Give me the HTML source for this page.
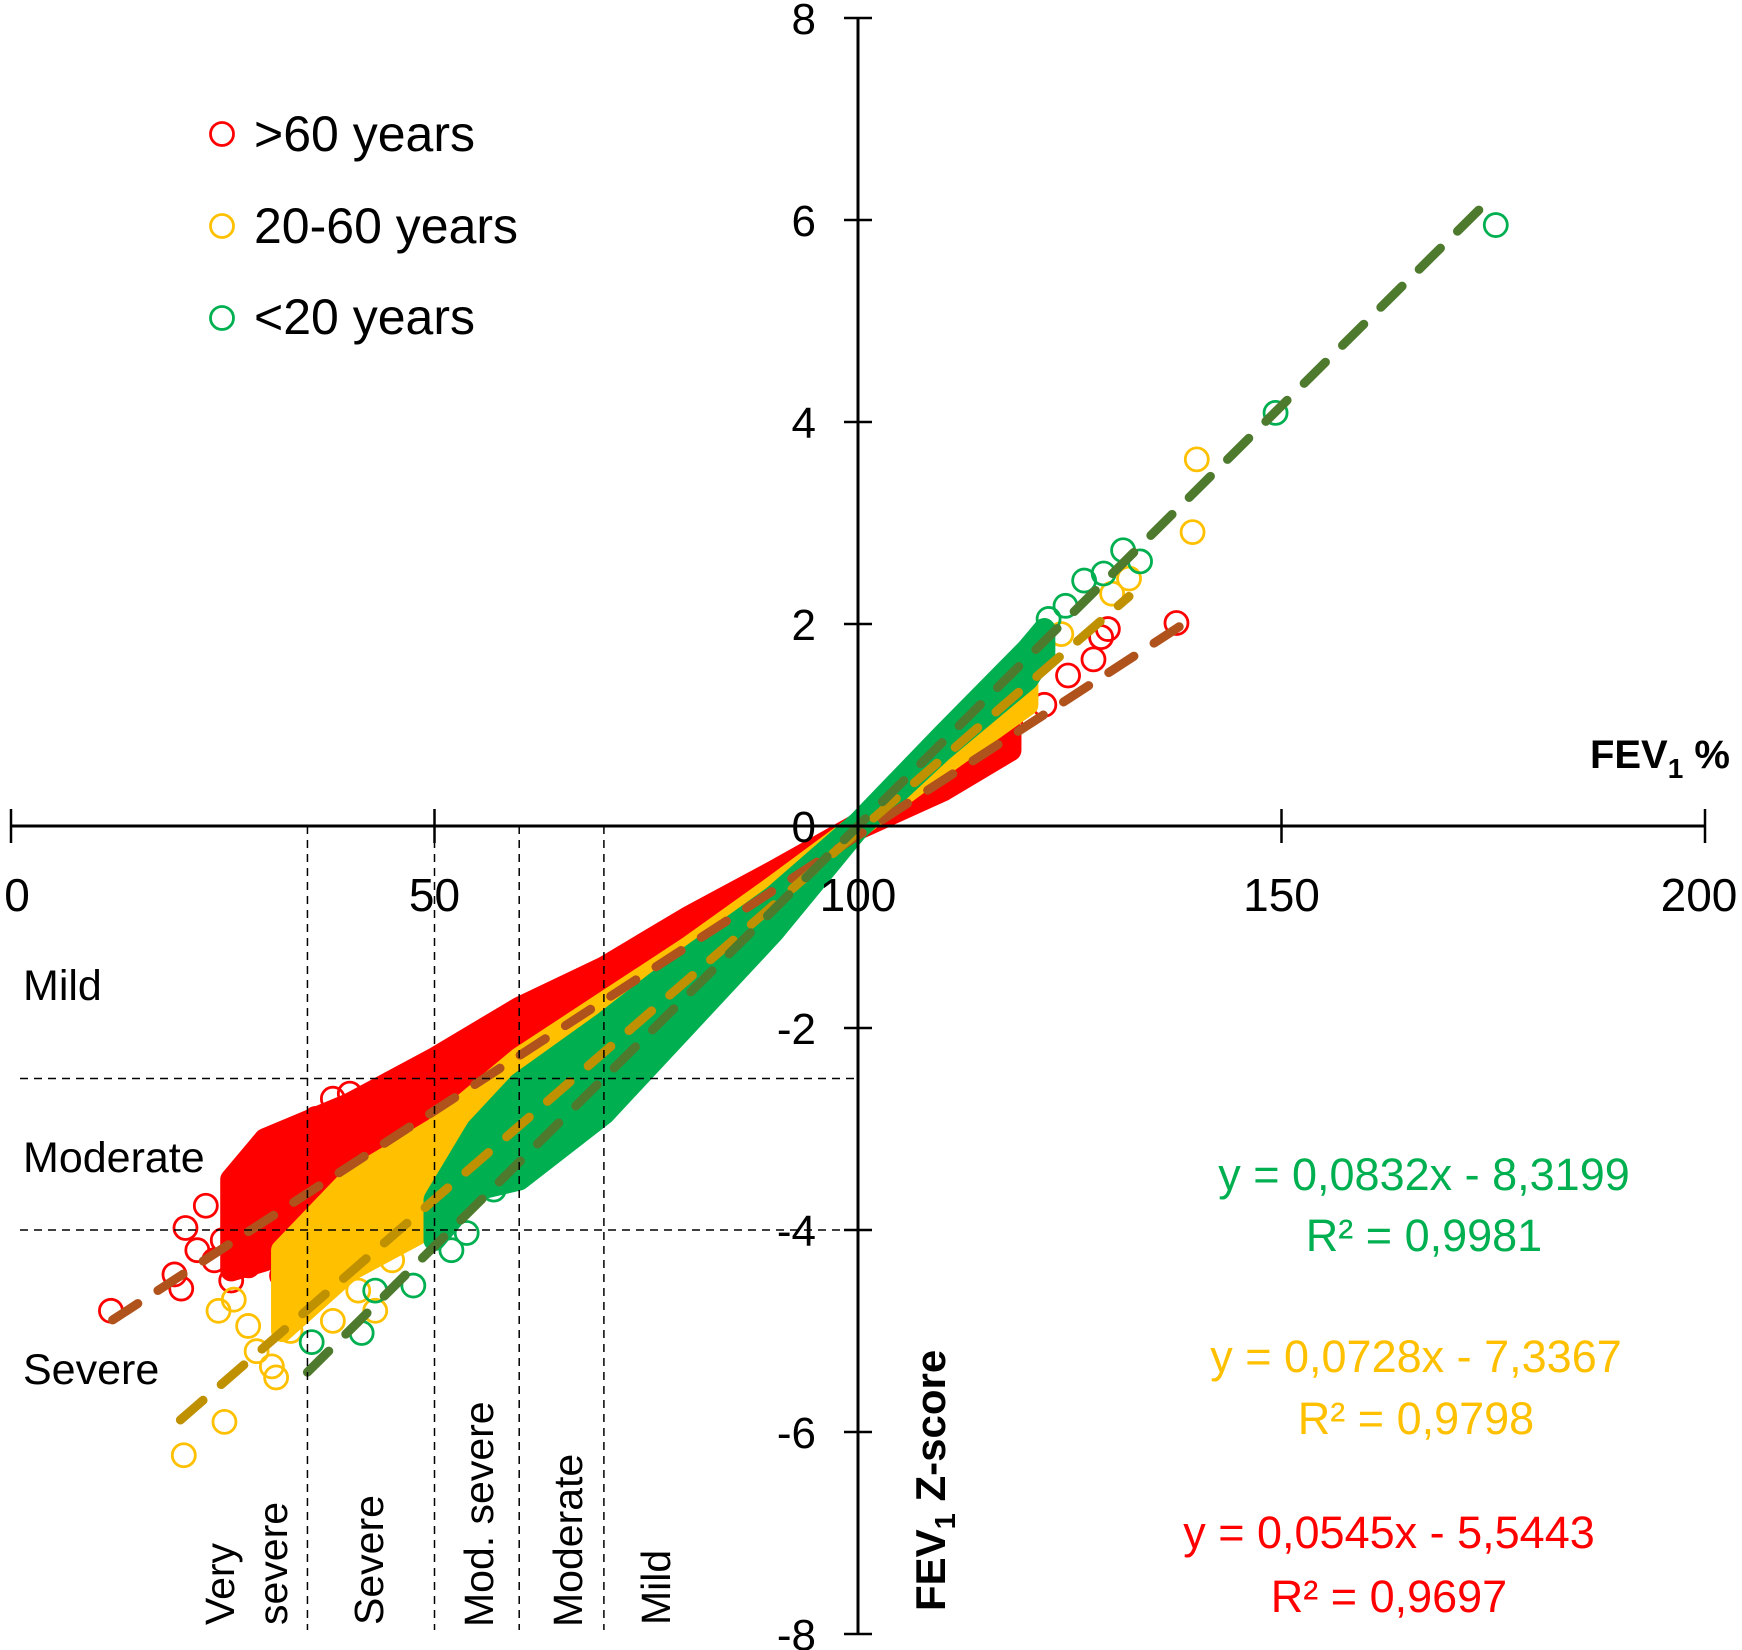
<!DOCTYPE html>
<html><head><meta charset="utf-8"><style>
html,body{margin:0;padding:0;background:#fff}
svg{display:block}
text{font-family:"Liberation Sans",sans-serif}
</style></head><body>
<svg id="chart" width="1742" height="1650" viewBox="0 0 1742 1650" xmlns="http://www.w3.org/2000/svg">
<g id="bands"></g><g id="points"></g><g id="trends"></g><g id="axes"></g><g id="labels"></g>
</svg>
<script>
// ---- data ----
const xTicks=[0,50,100,150,200];
const yTicks=[8,6,4,2,0,-2,-4,-6,-8];
const severityX=[35,50,60,70];
const severityZ=[-2.5,-4];
// band envelopes (FEV1 %, z-score)
const redBandX=[26,30,40,50,60,70,80,90,100,110,118];
const redBandUpper=[-3.5,-3.1,-2.75,-2.3,-1.8,-1.4,-0.9,-0.45,0.02,0.5,0.95];
const redBandLower=[-4.4,-4.3,-3.6,-3.1,-2.35,-1.8,-1.2,-0.6,-0.03,0.35,0.75];
const yelBandX=[32,40,50,60,70,80,90,100,110,120];
const yelBandUpper=[-4.2,-3.5,-3.0,-2.3,-1.75,-1.2,-0.6,0.02,0.75,1.4];
const yelBandLower=[-5.0,-4.4,-3.95,-2.85,-2.15,-1.45,-0.75,-0.02,0.6,1.2];
const grnBandX=[50,55,60,70,80,90,100,110,120,122];
const grnBandUpper=[-3.7,-3.0,-2.55,-1.95,-1.3,-0.7,0.03,0.9,1.75,1.95];
const grnBandLower=[-4.1,-3.6,-3.5,-2.85,-1.95,-1.05,-0.03,0.75,1.45,1.7];
// individual points
const redPtsX=[11.8,19.3,20.1,20.6,23,25,27,29,30,31,33,24,26,28,32,34,22,36,38,40,137.6,128.7,127.8,124.8,129.5,122,118,115,112];
const redPtsZ=[-4.8,-4.44,-4.58,-3.98,-3.76,-4.1,-3.9,-3.5,-3.3,-3.15,-3.2,-4.3,-4.5,-4.35,-4.45,-4.2,-4.2,-2.9,-2.7,-2.65,2.01,1.87,1.65,1.49,1.95,1.2,1.0,0.85,0.6];
const yelPtsX=[20.4,25.2,26.3,24.5,31.3,30.8,28,33,36,38,41,43,35,45,29,34,140,139.5,132,130,124,121];
const yelPtsZ=[-6.23,-5.9,-4.69,-4.8,-5.46,-5.35,-4.95,-5.0,-4.5,-4.9,-4.6,-4.8,-4.1,-4.3,-5.2,-4.3,3.63,2.91,2.45,2.3,1.9,1.6];
const grnPtsX=[175.3,149.3,35.5,41.4,43,47.5,53.8,52,57,60,66,131.3,133.3,126.7,124.5,129,122.5,121];
const grnPtsZ=[5.95,4.09,-5.11,-5.02,-4.6,-4.55,-4.03,-4.2,-3.6,-3.2,-2.9,2.73,2.62,2.43,2.18,2.5,2.05,1.8];
// regression lines
const trendSlope=[0.0545,0.0728,0.0832];
const trendIntercept=[-5.5443,-7.3367,-8.3199];
const trendFrom=[12,20,35];
const trendTo=[138,132,174];

// ---- scales ----
const X0=11,X1=1705,Y0=826,YU=101;
const sx=v=>X0+(X1-X0)*v/200;
const sy=v=>Y0-v*YU;
const NS="http://www.w3.org/2000/svg";
function mk(tag,parent,attrs){const e=document.createElementNS(NS,tag);for(const k in attrs)e.setAttribute(k,attrs[k]);document.getElementById(parent).appendChild(e);return e;}

function band(xs,up,lo,color,name){
  let d="";
  xs.forEach((x,i)=>{d+=(i?"L":"M")+sx(x)+","+sy(up[i]);});
  for(let i=xs.length-1;i>=0;i--)d+="L"+sx(xs[i])+","+sy(lo[i]);
  d+="Z";
  const p=mk("path","bands",{d:d,fill:color,stroke:color,"stroke-width":22,"stroke-linejoin":"round"});
  
  
}
function pts(xs,zs,color,name){
  xs.forEach((x,i)=>{
    const c=mk("circle","bands",{cx:sx(x),cy:sy(zs[i]),r:11.5,fill:"none",stroke:color,"stroke-width":2.8});
    
    
  });
}
band(redBandX,redBandUpper,redBandLower,"#ff0000","band-over-60");
pts(redPtsX,redPtsZ,"#ff0000","point-over-60");
band(yelBandX,yelBandUpper,yelBandLower,"#ffc000","band-20-60");
pts(yelPtsX,yelPtsZ,"#ffc000","point-20-60");
band(grnBandX,grnBandUpper,grnBandLower,"#00b050","band-under-20");
pts(grnPtsX,grnPtsZ,"#00b050","point-under-20");

const trendColors=["#b0521c","#bf9000","#4e7a2e"];
const trendNames=["trend-over-60","trend-20-60","trend-under-20"];
trendSlope.forEach((m,i)=>{
  const a=trendFrom[i],b=trendTo[i];
  const l=mk("line","trends",{x1:sx(a),y1:sy(m*a+trendIntercept[i]),x2:sx(b),y2:sy(m*b+trendIntercept[i]),stroke:trendColors[i],"stroke-width":9,"stroke-dasharray":"30 24","stroke-linecap":"round"});
  
  
});

severityX.forEach(v=>{
  const l=mk("line","axes",{x1:sx(v),y1:Y0,x2:sx(v),y2:1630,stroke:"#000","stroke-width":1.5,"stroke-dasharray":"8 6"});
  
  
});
severityZ.forEach(v=>{
  const l=mk("line","axes",{x1:20,y1:sy(v),x2:sx(100),y2:sy(v),stroke:"#000","stroke-width":1.5,"stroke-dasharray":"8 6"});
  
  
});

let ax=mk("line","axes",{x1:X0,y1:Y0,x2:X1,y2:Y0,stroke:"#000","stroke-width":3});


ax=mk("line","axes",{x1:sx(100),y1:sy(8),x2:sx(100),y2:sy(-8),stroke:"#000","stroke-width":3});


xTicks.forEach(v=>{
  const t=mk("line","axes",{x1:sx(v),y1:Y0-17,x2:sx(v),y2:Y0+17,stroke:"#000","stroke-width":2.5});
  
  
  const tx=mk("text","labels",{x:sx(v)+(v===200?-6:v===0?6:0),y:911,"font-size":46,"text-anchor":"middle",fill:"#000"});
  tx.textContent=v;
  
  
});
yTicks.forEach(v=>{
  const t=mk("line","axes",{x1:sx(100)-14,y1:sy(v),x2:sx(100)+14,y2:sy(v),stroke:"#000","stroke-width":2.5});
  
  
  const tx=mk("text","labels",{x:816,y:sy(v)+16,"font-size":44,"text-anchor":"end",fill:"#000"});
  tx.textContent=v;
  
  
});
</script>
<svg style="position:absolute;left:0;top:0" width="1742" height="1650">
<g font-family="Liberation Sans, sans-serif">
<g font-size="50">
<circle cx="222" cy="134" r="11.5" fill="none" stroke="#ff0000" stroke-width="2.8"/>
<text x="254" y="151">&gt;60 years</text>
<circle cx="222" cy="226" r="11.5" fill="none" stroke="#ffc000" stroke-width="2.8"/>
<text x="254" y="243">20-60 years</text>
<circle cx="222" cy="318" r="11.5" fill="none" stroke="#00b050" stroke-width="2.8"/>
<text x="254" y="334">&lt;20 years</text>
</g>
<text x="1730" y="768" font-size="40" font-weight="bold" text-anchor="end">FEV<tspan font-size="28" dy="10">1</tspan><tspan dy="-10"> %</tspan></text>
<text transform="translate(945,1611) rotate(-90)" font-size="42" font-weight="bold">FEV<tspan font-size="29" dy="10">1</tspan><tspan dy="-10"> Z-score</tspan></text>
<g font-size="43">
<text x="23" y="1000">Mild</text>
<text x="23" y="1172">Moderate</text>
<text x="23" y="1384">Severe</text>
</g>
<g font-size="41">
<text transform="translate(234,1625) rotate(-90)">Very</text>
<text transform="translate(287,1625) rotate(-90)">severe</text>
<text transform="translate(383,1625) rotate(-90)">Severe</text>
<text transform="translate(493,1627) rotate(-90)">Mod. severe</text>
<text transform="translate(582,1627) rotate(-90)">Moderate</text>
<text transform="translate(670,1625) rotate(-90)">Mild</text>
</g>
<g font-size="45" text-anchor="middle">
<text x="1424" y="1190" fill="#00b050">y = 0,0832x - 8,3199</text>
<text x="1424" y="1251" fill="#00b050">R² = 0,9981</text>
<text x="1416" y="1372" fill="#ffc000">y = 0,0728x - 7,3367</text>
<text x="1416" y="1434" fill="#ffc000">R² = 0,9798</text>
<text x="1389" y="1548" fill="#ff0000">y = 0,0545x - 5,5443</text>
<text x="1389" y="1612" fill="#ff0000">R² = 0,9697</text>
</g>
</g>
</svg>
</body></html>
